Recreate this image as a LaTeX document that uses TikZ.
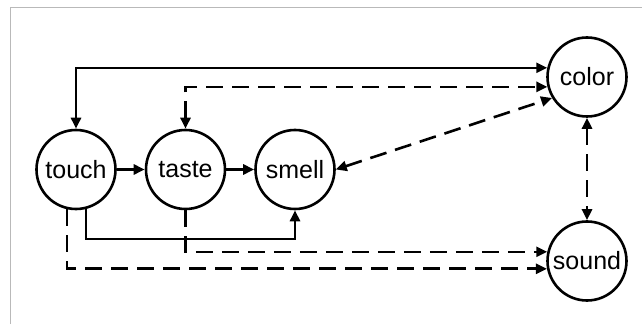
\documentclass[tikz,border=0pt]{standalone}
\usepackage{fontspec}
\setmainfont{Liberation Sans}
\usetikzlibrary{arrows.meta}

\tikzset{
  sentido/.style={draw, circle, line width=2.6pt, minimum size=79pt, inner sep=0pt,
    font=\fontsize{25}{30}\selectfont},
  seta/.style={line width=2.6pt, -{Triangle[length=11pt,width=10pt]}},
  setadupla/.style={seta, {Triangle[length=11pt,width=10pt]}-{Triangle[length=11pt,width=10pt]}},
  tracejado/.style={dash pattern=on 17pt off 9pt}
}

\begin{document}
\begin{tikzpicture}[x=1pt, y=1pt]
    % Moldura
    \useasboundingbox (0,0) rectangle (642,324);
    \draw[gray!55, line width=1pt] (10,0) -- (10,316) -- (642,316);

    % Os sentidos
    \node[sentido] (touch) at (76, 154.5) {touch}; % Tato
    \node[sentido] (taste) at (185.5, 154.5) {taste}; % Paladar
    \node[sentido] (smell) at (295, 154.5) {smell}; % Olfato
    \node[sentido] (color) at (587, 247) {color}; % Cor
    \node[sentido] (sound) at (587, 63) {sound}; % Som

    % Ligações contínuas
    \draw[seta] (touch) -- (taste);
    \draw[seta] (taste) -- (smell);
    \draw[setadupla] (touch.north) |- (color.167);
    \draw[seta] (touch.284) -- ++(0,-30) -| (smell.south);

    % Ligações tracejadas
    \draw[setadupla, tracejado] (taste.north) |- (color.194);
    \draw[setadupla, tracejado] (smell.east) -- (color.211);
    \draw[setadupla, tracejado] (color.south) -- (sound.north);
    \draw[seta, tracejado] (taste.south) |- (sound.167);
    \draw[seta, tracejado] (touch.257) |- (sound.191);
\end{tikzpicture}
\end{document}
